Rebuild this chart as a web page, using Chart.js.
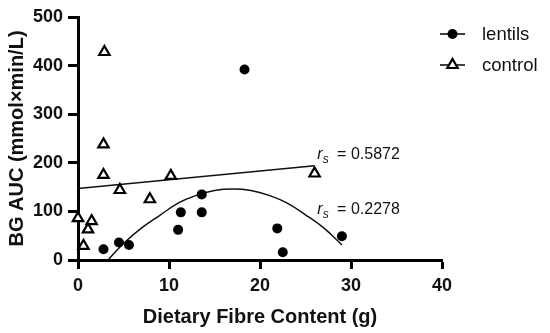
<!DOCTYPE html>
<html>
<head>
<meta charset="utf-8">
<script src="https://cdn.jsdelivr.net/npm/chart.js@4/dist/chart.umd.min.js"></script>
<style>
  html, body { margin: 0; padding: 0; background: #fff; }
  #wrap { width: 550px; height: 333px; }
</style>
</head>
<body>
<div id="wrap"><canvas id="c" width="550" height="333"></canvas></div>
<script>
// points
const lentilsX = [2.8, 4.5, 5.6, 11.0, 11.3, 13.6, 13.6, 18.3, 21.9, 22.5, 29.0];
const lentilsY = [22, 36, 31, 62, 98, 98, 135, 392, 65, 16, 49];
const controlX = [0, 0.6, 1.1, 1.5, 2.8, 2.8, 2.9, 4.6, 7.9, 10.2, 26.0];
const controlY = [86, 29, 63, 80, 175, 238, 428, 144, 125, 173, 178];

// fitted lines
const controlFitX = [0, 26];
const controlFitY = [147, 194];
const lentilsFitX = [3.3, 5, 7, 9, 11, 13, 15, 17, 19, 21, 23, 25, 27, 29];
const lentilsFitY = [0, 34, 66, 92, 117, 133, 143, 146, 143, 133, 117, 93, 66, 31];

const seriesNames = ['lentils', 'control'];
const rsLabels = ['0.5872', '0.2278'];
const rsAnchorX = [26.3, 26.3];
const rsAnchorY = [207, 94];

const xTicks = [0, 10, 20, 30, 40];
const yTicks = [0, 100, 200, 300, 400, 500];

const FONT = '"Liberation Sans", Arial, sans-serif';
const zip = (xs, ys) => xs.map((x, i) => ({ x: x, y: ys[i] }));

const overlay = {
  id: 'overlay',
  afterDatasetsDraw(chart) {
    const ctx = chart.ctx;
    const sx = chart.scales.x, sy = chart.scales.y;
    ctx.save();
    ctx.fillStyle = '#111';
    // r_s labels
    rsLabels.forEach((val, i) => {
      let px = sx.getPixelForValue(rsAnchorX[i]);
      const py = sy.getPixelForValue(rsAnchorY[i]);
      ctx.textBaseline = 'alphabetic';
      ctx.textAlign = 'left';
      ctx.font = 'italic 16px ' + FONT;
      ctx.fillText('r', px, py);
      px += ctx.measureText('r').width;
      ctx.font = 'italic 12px ' + FONT;
      ctx.fillText('s', px, py + 4);
      px += ctx.measureText('s').width + 4;
      ctx.font = '16px ' + FONT;
      ctx.fillText(' = ' + val, px, py);
    });

    // legend
    const styles = [
      { pointStyle: 'circle', radius: 5, borderWidth: 0, fill: '#000' },
      { pointStyle: 'triangle', radius: 6, borderWidth: 2.2, fill: '#fff' }
    ];
    const rowsY = [34, 65];
    seriesNames.forEach((name, i) => {
      const y = rowsY[i];
      ctx.strokeStyle = '#000';
      ctx.lineWidth = 1.5;
      ctx.beginPath();
      ctx.moveTo(440, y);
      ctx.lineTo(465, y);
      ctx.stroke();
      ctx.fillStyle = styles[i].fill;
      ctx.lineWidth = 2.2;
      Chart.helpers.drawPoint(ctx, { pointStyle: styles[i].pointStyle, radius: styles[i].radius, rotation: 0, borderWidth: styles[i].borderWidth }, 452.5, y);
      ctx.fillStyle = '#111';
      ctx.font = '18.5px ' + FONT;
      ctx.textBaseline = 'middle';
      ctx.textAlign = 'left';
      ctx.fillText(name, 482, y + 1);
    });
    ctx.restore();
  }
};

new Chart(document.getElementById('c'), {
  type: 'scatter',
  data: {
    datasets: [
      {
        label: 'control fit', data: zip(controlFitX, controlFitY), showLine: true,
        borderColor: '#111', borderWidth: 1.5, pointRadius: 0, order: 3
      },
      {
        label: 'lentils fit', data: zip(lentilsFitX, lentilsFitY), showLine: true,
        borderColor: '#111', borderWidth: 1.5, pointRadius: 0, tension: 0.4, order: 3
      },
      {
        label: seriesNames[0], data: zip(lentilsX, lentilsY), pointStyle: 'circle',
        pointRadius: 5, backgroundColor: '#000', borderColor: '#000', borderWidth: 0, order: 1
      },
      {
        label: seriesNames[1], data: zip(controlX, controlY), pointStyle: 'triangle',
        pointRadius: 6, backgroundColor: '#fff', borderColor: '#000', borderWidth: 2.2, order: 2
      }
    ]
  },
  options: {
    responsive: false,
    animation: false,
    clip: false,
    layout: { padding: { top: 17, right: 108, left: 0, bottom: 0 } },
    plugins: { legend: { display: false }, tooltip: { enabled: false } },
    scales: {
      x: {
        type: 'linear', min: 0, max: 40,
        afterBuildTicks: s => { s.ticks = xTicks.map(v => ({ value: v })); },
        afterFit: s => { s.height = 73; },
        border: { display: true, color: '#000', width: 3 },
        grid: { drawOnChartArea: false, drawTicks: true, tickLength: 9, tickWidth: 3, tickColor: '#000' },
        ticks: { color: '#111', padding: 6, font: { family: FONT, size: 18, weight: 'bold' } },
        title: { display: true, text: 'Dietary Fibre Content (g)', color: '#111',
          padding: { top: 0, bottom: 4 }, font: { family: FONT, size: 20, weight: 'bold' } }
      },
      y: {
        type: 'linear', min: 0, max: 500,
        afterBuildTicks: s => { s.ticks = yTicks.map(v => ({ value: v })); },
        afterFit: s => { s.width = 78; },
        border: { display: true, color: '#000', width: 3 },
        grid: { drawOnChartArea: false, drawTicks: true, tickLength: 10, tickWidth: 3, tickColor: '#000' },
        ticks: { color: '#111', padding: 5, font: { family: FONT, size: 18, weight: 'bold' } },
        title: { display: true, text: 'BG AUC (mmol×min/L)', color: '#111',
          padding: { top: 5, bottom: 0 }, font: { family: FONT, size: 20, weight: 'bold' } }
      }
    }
  },
  plugins: [overlay]
});
</script>
</body>
</html>
